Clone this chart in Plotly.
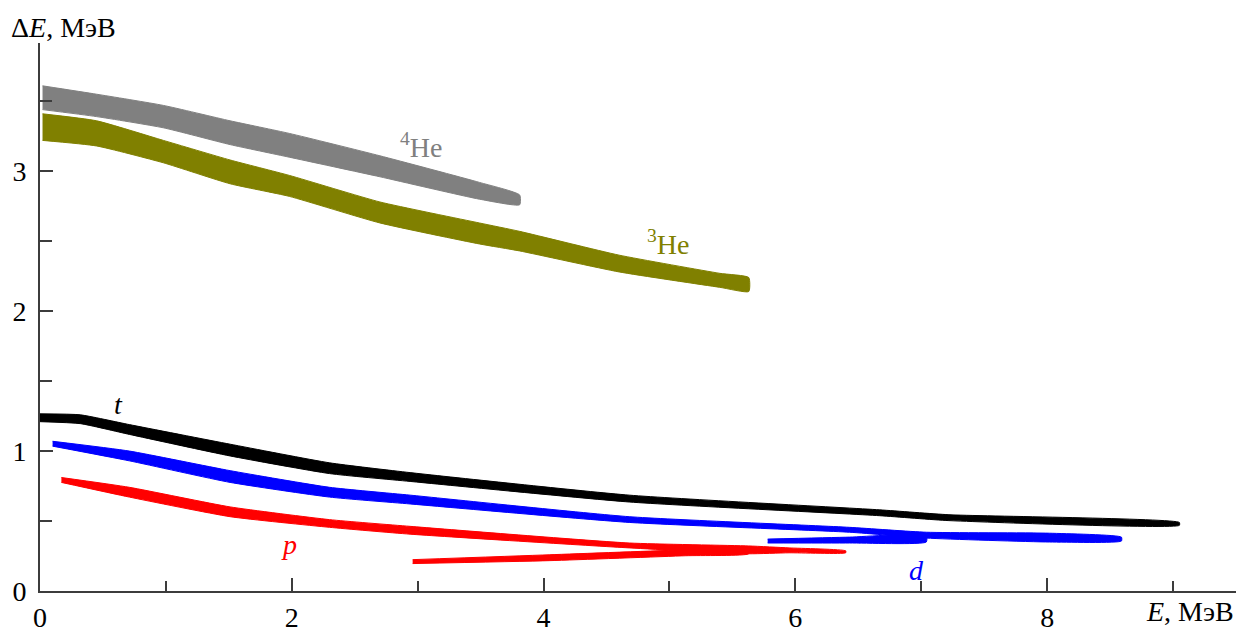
import plotly.graph_objects as go

# ---- data (E in MeV, band upper / lower edge of dE in MeV) ----
he4_E   = [0.02, 0.45, 0.98, 1.51, 1.98, 2.70, 3.49, 3.81]
he4_top = [3.61, 3.55, 3.47, 3.36, 3.27, 3.11, 2.92, 2.83]
he4_bot = [3.44, 3.39, 3.31, 3.19, 3.10, 2.96, 2.80, 2.76]

he3_E   = [0.02, 0.45, 0.98, 1.51, 1.98, 2.70, 3.49, 3.81, 4.60, 5.40, 5.63]
he3_top = [3.41, 3.36, 3.22, 3.08, 2.97, 2.78, 2.63, 2.57, 2.40, 2.27, 2.24]
he3_bot = [3.22, 3.18, 3.06, 2.91, 2.82, 2.63, 2.48, 2.43, 2.28, 2.17, 2.14]

t_E   = [0.00, 0.32, 0.71, 1.51, 2.30, 2.94, 4.68, 6.67, 7.22, 9.05]
t_top = [1.266, 1.259, 1.189, 1.049, 0.916, 0.846, 0.685, 0.580, 0.545, 0.490]
t_bot = [1.210, 1.196, 1.119, 0.965, 0.839, 0.783, 0.636, 0.538, 0.503, 0.469]

d_E   = [0.10, 0.71, 1.51, 2.30, 2.94, 4.68, 6.43, 7.04, 8.02, 8.59]
d_top = [1.070, 1.000, 0.860, 0.741, 0.685, 0.531, 0.455, 0.420, 0.413, 0.385]
d_bot = [1.035, 0.930, 0.776, 0.671, 0.622, 0.490, 0.420, 0.378, 0.350, 0.357]

dpt_E   = [5.78, 6.43, 7.04]
dpt_top = [0.371, 0.385, 0.399]
dpt_bot = [0.343, 0.343, 0.350]

p_E   = [0.17, 0.71, 1.51, 2.30, 2.94, 4.68, 5.63, 5.95, 6.40]
p_top = [0.811, 0.741, 0.601, 0.510, 0.462, 0.343, 0.322, 0.308, 0.287]
p_bot = [0.776, 0.671, 0.531, 0.455, 0.406, 0.308, 0.266, 0.273, 0.273]

ppt_E   = [2.96, 4.05, 5.13, 5.63]
ppt_top = [0.224, 0.259, 0.294, 0.300]
ppt_bot = [0.196, 0.217, 0.252, 0.266]

x_tickvals = [0, 2, 4, 6, 8]
x_ticktext = ["0", "2", "4", "6", "8"]
y_tickvals = [0, 1, 2, 3]
y_ticktext = ["0", "1", "2", "3"]

bands = [
    (he4_E, he4_top, he4_bot, "#808080"),
    (he3_E, he3_top, he3_bot, "#808000"),
    (t_E, t_top, t_bot, "#000000"),
    (d_E, d_top, d_bot, "#0000ff"),
    (dpt_E, dpt_top, dpt_bot, "#0000ff"),
    (p_E, p_top, p_bot, "#ff0000"),
    (ppt_E, ppt_top, ppt_bot, "#ff0000"),
]

labels = [
    (3.03, 3.18, "<sup>4</sup>He", "#808080"),
    (4.99, 2.49, "<sup>3</sup>He", "#808000"),
    (0.62, 1.33, "<i>t</i>", "#000000"),
    (1.98, 0.33, "<i>p</i>", "#ff0000"),
    (6.96, 0.145, "<i>d</i>", "#0000ff"),
]

FONT = "'Liberation Serif', 'Times New Roman', 'DejaVu Serif', serif"

fig = go.Figure()
for E, top, bot, col in bands:
    fig.add_trace(go.Scatter(
        x=list(E) + list(E)[::-1],
        y=list(top) + list(bot)[::-1],
        fill="toself", fillcolor=col, mode="lines",
        line=dict(color=col, width=1, shape="spline", smoothing=0.5),
        hoverinfo="skip", showlegend=False))

for x, y, txt, col in labels:
    fig.add_annotation(x=x, y=y, text=txt, showarrow=False,
                       font=dict(family=FONT, size=28, color=col))

fig.add_annotation(xref="paper", yref="paper", x=-0.026, y=1.0, yshift=16,
                   xanchor="left", yanchor="middle", showarrow=False,
                   text="Δ<i>E</i>, МэВ", font=dict(family=FONT, size=28, color="black"))
fig.add_annotation(xref="paper", yref="paper", x=1.0, y=0, yshift=-20,
                   xanchor="right", yanchor="middle", showarrow=False,
                   text="<i>E</i>, МэВ", font=dict(family=FONT, size=28, color="black"))

axis_common = dict(showgrid=False, zeroline=False, showline=True,
                   linecolor="#3c3c3c", linewidth=2, ticks="inside",
                   tickcolor="#3c3c3c", tickwidth=2, ticklen=13,
                   tickfont=dict(family=FONT, size=28, color="black"))

fig.update_xaxes(range=[0, 9.5], tickvals=x_tickvals, ticktext=x_ticktext,
                 minor=dict(tickvals=[1, 3, 5, 7, 9], ticks="inside", ticklen=10,
                            tickcolor="#3c3c3c", tickwidth=2),
                 **axis_common)
fig.update_yaxes(range=[0, 3.916], tickvals=y_tickvals, ticktext=y_ticktext,
                 minor=dict(tickvals=[0.5, 1.5, 2.5, 3.5], ticks="inside", ticklen=12,
                            tickcolor="#3c3c3c", tickwidth=2),
                 ticklabelstandoff=6,
                 **axis_common)

fig.update_layout(width=1242, height=639, margin=dict(l=40, r=6, t=43, b=36),
                  plot_bgcolor="white", paper_bgcolor="white", showlegend=False,
                  font=dict(family=FONT))

fig.write_html("out.html")
